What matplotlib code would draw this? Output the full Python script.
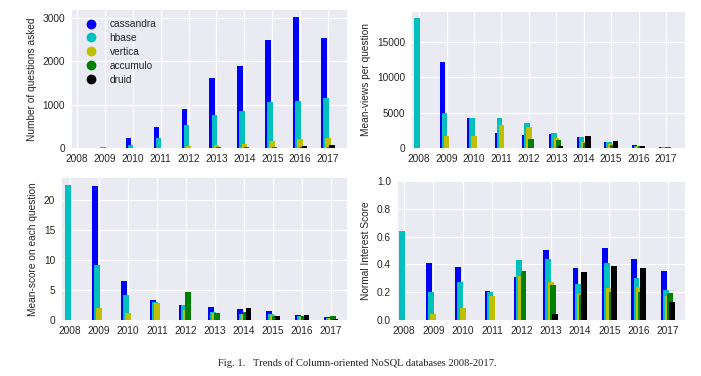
import numpy as np
import matplotlib
matplotlib.use('Agg')
import matplotlib.pyplot as plt
from matplotlib.lines import Line2D

plt.style.use('seaborn-v0_8-darkgrid')
plt.rcParams['font.family'] = ['Liberation Sans', 'DejaVu Sans']

years = ['2008', '2009', '2010', '2011', '2012', '2013', '2014', '2015', '2016', '2017']
dbs = ['cassandra', 'hbase', 'vertica', 'accumulo', 'druid']
colors = ['#0000FF', '#00BFBF', '#BFBF00', '#008000', '#000000']

# Number of questions asked
questions = {
    'cassandra': [0, 5, 240, 475, 895, 1615, 1890, 2495, 3035, 2530],
    'hbase':     [5, 20, 60, 225, 530, 760, 855, 1055, 1090, 1165],
    'vertica':   [0, 0, 5, 10, 45, 80, 100, 165, 210, 235],
    'accumulo':  [0, 0, 0, 0, 10, 20, 25, 30, 30, 25],
    'druid':     [0, 0, 0, 0, 0, 0, 2, 10, 40, 70],
}
# Mean-views per question
views = {
    'cassandra': [0, 12100, 4270, 2180, 1800, 1940, 1520, 900, 430, 190],
    'hbase':     [18300, 4980, 4170, 4270, 3510, 2180, 1560, 850, 330, 140],
    'vertica':   [0, 1710, 1710, 3220, 2940, 1420, 850, 520, 240, 100],
    'accumulo':  [0, 0, 0, 0, 1230, 1090, 710, 470, 280, 80],
    'druid':     [0, 0, 0, 0, 0, 280, 1660, 1040, 330, 60],
}
# Mean-score on each question
scores = {
    'cassandra': [0, 22.3, 6.45, 3.35, 2.45, 2.2, 1.9, 1.45, 0.85, 0.45],
    'hbase':     [22.5, 9.15, 4.2, 3.0, 2.55, 1.3, 1.0, 1.05, 0.6, 0.35],
    'vertica':   [0, 1.95, 1.2, 2.8, 1.7, 1.1, 0.95, 0.8, 0.45, 0.3],
    'accumulo':  [0, 0, 0, 0, 4.65, 1.1, 1.3, 0.7, 0.6, 0.65],
    'druid':     [0, 0, 0, 0, 0, 0, 1.95, 0.75, 0.85, 0.22],
}
# Normal interest score
interest = {
    'cassandra': [0, 0.41, 0.38, 0.21, 0.31, 0.505, 0.375, 0.52, 0.44, 0.35],
    'hbase':     [0.64, 0.2, 0.27, 0.205, 0.435, 0.44, 0.26, 0.41, 0.305, 0.215],
    'vertica':   [0, 0.045, 0.09, 0.17, 0.32, 0.27, 0.19, 0.23, 0.24, 0.175],
    'accumulo':  [0, 0, 0, 0, 0.355, 0.25, 0.18, 0.2, 0.2, 0.197],
    'druid':     [0, 0, 0, 0, 0, 0.04, 0.345, 0.39, 0.375, 0.13],
}

fig = plt.figure(figsize=(7.01, 3.76), dpi=100)
fig.patch.set_facecolor('white')

panels = [
    (questions, 'Number of questions asked', [0.1027, 0.6064, 0.3923, 0.367], (-0.18, 9.68), None),
    (views, 'Mean-views per question', [0.5877, 0.6064, 0.3894, 0.3617], (-0.26, 9.69), None),
    (scores, 'Mean-score on each question', [0.0884, 0.1489, 0.4066, 0.3777], (-0.28, 9.55), None),
    (interest, 'Normal Interest Score', [0.5678, 0.1489, 0.4094, 0.3697], (-0.2, 9.58), (0, 1.0)),
]

x = np.arange(len(years))
w = 0.2
for data, ylabel, pos, xlim, ylim in panels:
    ax = fig.add_axes(pos)
    ax.set_facecolor('#EAEAF2')
    for i, (db, c) in enumerate(zip(dbs, colors)):
        ax.bar(x - 0.25 + 0.075 * i, data[db], width=w, align='edge', color=c, linewidth=0)
    ax.set_xticks(x)
    ax.set_xticklabels(years)
    ax.set_xlim(*xlim)
    if ylim:
        ax.set_ylim(*ylim)
    ax.set_ylabel(ylabel, fontsize=7.3, color='#262626')
    ax.tick_params(labelsize=7.3, colors='#262626', length=0)
    ax.tick_params(axis='x', pad=4)
    ax.tick_params(axis='y', pad=5)
    ax.grid(True, color='white', linewidth=0.9)
    ax.set_axisbelow(True)
    for s in ax.spines.values():
        s.set_visible(False)
    if data is questions:
        handles = [Line2D([], [], marker='o', ls='none', color=c, markersize=6) for c in colors]
        ax.legend(handles, dbs, loc='upper left', frameon=False, fontsize=7.3,
                  bbox_to_anchor=(0.0, 1.0), handletextpad=0.8, labelspacing=0.38)

fig.text(0.51, 0.035, 'Fig. 1.   Trends of Column-oriented NoSQL databases 2008-2017.',
         ha='center', va='center', fontsize=7.6, family='Liberation Serif', color='#222222')

fig.savefig('out.png', dpi=100)
